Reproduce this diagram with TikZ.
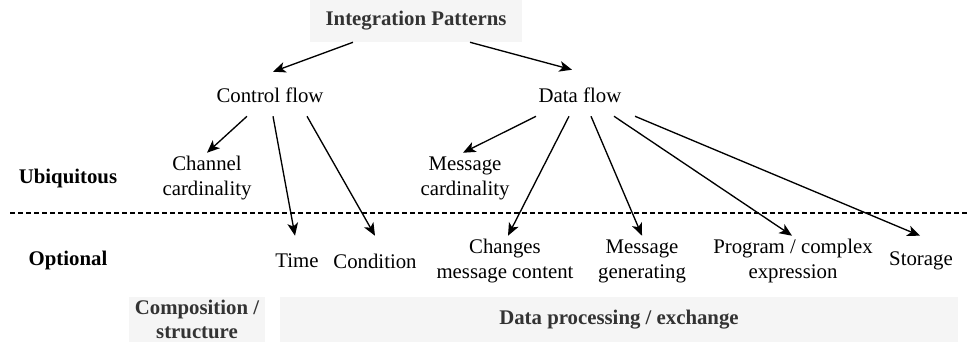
\documentclass[tikz,border=0pt]{standalone}
\usepackage{fontspec}
\setmainfont{Liberation Serif}
\usetikzlibrary{arrows.meta, positioning, calc}
\definecolor{boxfill}{HTML}{F5F5F5}
\definecolor{boxtext}{HTML}{333333}

\begin{document}
\begin{tikzpicture}[
        x=0.75pt, y=-0.75pt,
        every node/.style={font=\fontsize{15.6}{18.75}\selectfont},
        >={Stealth[length=9.5pt, width=8pt, inset=2.5pt]},
        term/.style={align=center, inner sep=0pt, minimum height=37.5pt},
        flow/.style={align=center, inner sep=0pt, minimum width=90pt, minimum height=31.5pt},
        group/.style={fill=boxfill, text=boxtext, align=center, inner sep=0pt, font=\fontsize{15.6}{18.5}\selectfont\bfseries},
        level/.style={inner sep=0pt, font=\fontsize{15.6}{18.75}\selectfont\bfseries},
        line/.style={draw, line width=1pt, ->},
        sep/.style={draw, line width=0.9pt, dash pattern=on 3.5pt off 2.5pt},
    ]
    \useasboundingbox (0,0) rectangle (967,342);

    % Nodes
    \node [group, minimum width=159pt, minimum height=31.5pt] (ip) at (416,21) {Integration Patterns};
    \node [flow] (cf) at (270,95) {Control flow};
    \node [flow] (df) at (580,95) {Data flow};

    \node [term] (chan) at (207,178) {Channel\\cardinality};
    \node [term] (msgc) at (465,178) {Message\\cardinality};

    \node [term] (time) at (297,261) {Time};
    \node [term] (cond) at (375,261) {Condition};
    \node [term] (chg) at (505,261) {Changes\\message content};
    \node [term] (gen) at (642,261) {Message\\generating};
    \node [term] (prog) at (793,261) {Program / complex\\expression};
    \node [term] (stor) at (921,261) {Storage};

    \node [level] (ubiq) at (68,178) {Ubiquitous};
    \node [level] (opt) at (68,260) {Optional};

    \node [group, minimum width=102pt, minimum height=33.75pt] (comp) at (197,319.5) {Composition /\\structure};
    \node [group, minimum width=508.5pt, minimum height=33.75pt] (dpe) at (619,319.5) {Data processing / exchange};

    % Separator
    \coordinate (sepl) at (10,213);
    \coordinate (sepr) at (967,213);
    \path [sep] (sepl) -- (sepr);

    % Arrows
    \path [line] ($(ip.south)+(-63,0)$) -- ($(cf.north)+(3,-2)$);
    \path [line] ($(ip.south)+(54,0)$) -- ($(df.north)+(-8,-4)$);

    \path [line] ($(cf.south)+(-23,0)$) -- (chan.north);
    \path [line] ($(cf.south)+(3,0)$) -- ($(time.north)+(-2,0)$);
    \path [line] ($(cf.south)+(37,0)$) -- (cond.north);

    \path [line] ($(df.south)+(-44,0)$) -- ($(msgc.north)+(-2,0)$);
    \path [line] ($(df.south)+(-11,0)$) -- ($(chg.north)+(3,0)$);
    \path [line] ($(df.south)+(11,0)$) -- (gen.north);
    \path [line] ($(df.south)+(34,0)$) -- ($(prog.north)+(-1,0)$);
    \path [line] ($(df.south)+(55,0)$) -- ($(stor.north)+(-1,0)$);

\end{tikzpicture}
\end{document}
